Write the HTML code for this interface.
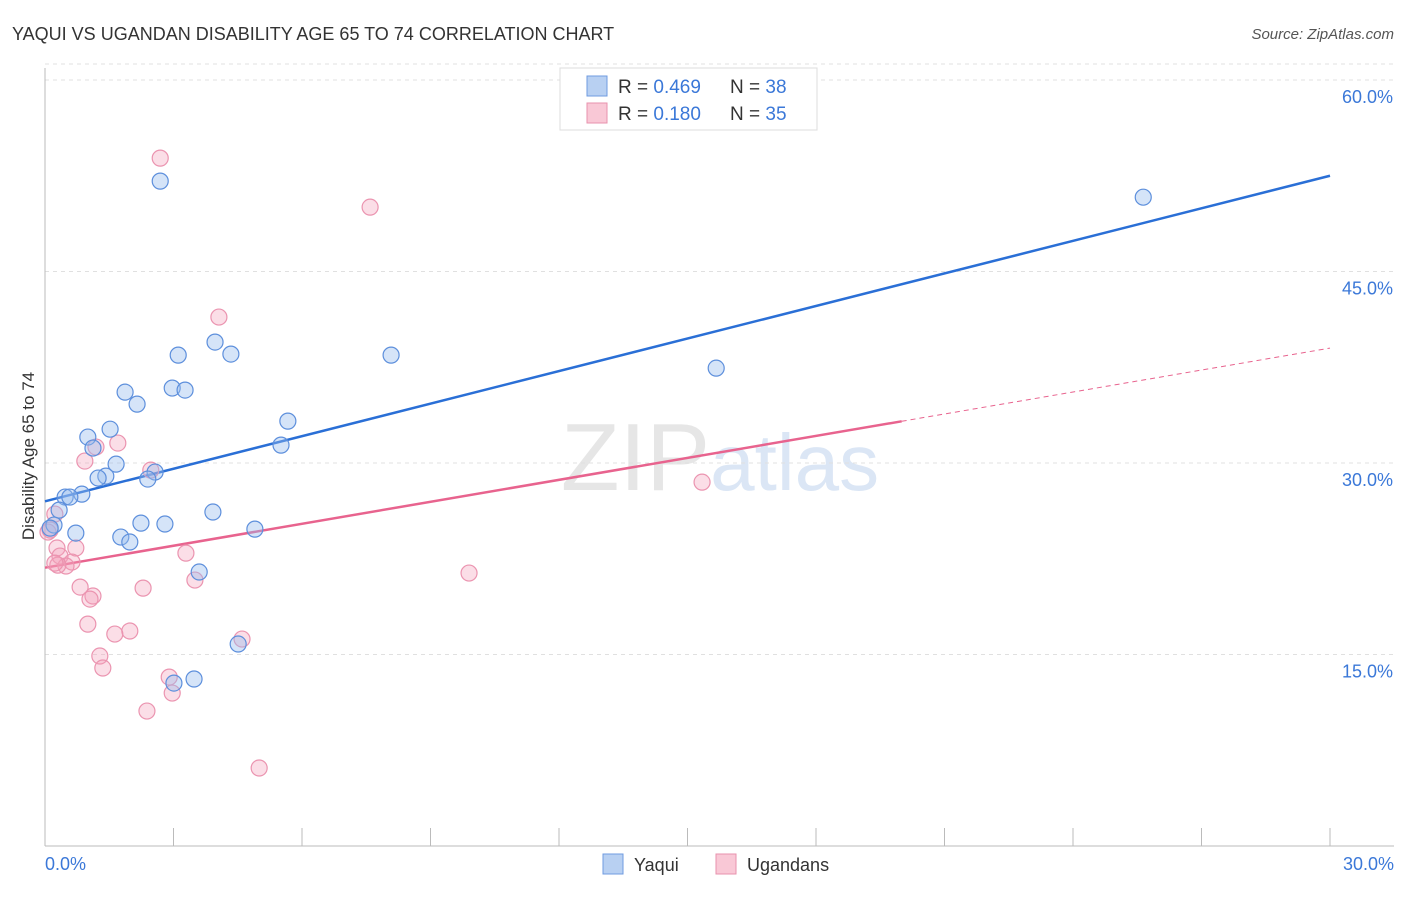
<!DOCTYPE html>
<html><head><meta charset="utf-8"><style>
body{margin:0;background:#fff;font-family:"Liberation Sans",sans-serif;}
svg text{font-family:"Liberation Sans",sans-serif;}
</style></head><body>
<svg id="chart" width="1406" height="892">
<text x="12" y="40" font-size="18" fill="#333">YAQUI VS UGANDAN DISABILITY AGE 65 TO 74 CORRELATION CHART</text>
<text x="1394" y="39" font-size="15" fill="#555" font-style="italic" text-anchor="end">Source: ZipAtlas.com</text>
<text x="720" y="490" font-size="96" fill="#e6e6e6" text-anchor="middle" font-family="Liberation Serif">ZIP<tspan fill="#dbe6f5" font-family="Liberation Sans" font-size="80">atlas</tspan></text>
<text transform="translate(34,456) rotate(-90)" font-size="17" fill="#333" text-anchor="middle">Disability Age 65 to 74</text>
<g id="grid"></g><g id="axes"></g><g id="trend"></g><g id="points"></g>
<g>
<rect x="560" y="68" width="257" height="62" fill="#fff" stroke="#ddd"/>
<rect x="587" y="76" width="20" height="20" fill="#b8d0f2" stroke="#6f9be0"/>
<rect x="587" y="103" width="20" height="20" fill="#f9c8d6" stroke="#e892ad"/>
<text x="618" y="93" font-size="19" fill="#333">R = <tspan fill="#3b78d8">0.469</tspan></text>
<text x="730" y="93" font-size="19" fill="#333">N = <tspan fill="#3b78d8">38</tspan></text>
<text x="618" y="120" font-size="19" fill="#333">R = <tspan fill="#3b78d8"> 0.180</tspan></text>
<text x="730" y="120" font-size="19" fill="#333">N = <tspan fill="#3b78d8">35</tspan></text>
</g>
<g>
<rect x="603" y="854" width="20" height="20" fill="#b8d0f2" stroke="#6f9be0"/>
<text x="634" y="871" font-size="18" fill="#333">Yaqui</text>
<rect x="716" y="854" width="20" height="20" fill="#f9c8d6" stroke="#e892ad"/>
<text x="747" y="871" font-size="18" fill="#333">Ugandans</text>
</g>
</svg>
<script>
const yTicks=[15,30,45,60];
const yTickLabels=["15.0%","30.0%","45.0%","60.0%"];
const xTickLabels=["0.0%","30.0%"];
const yaquiX=[2.69,25.64,3.97,3.11,4.34,8.08,15.67,2.97,3.27,1.87,2.15,5.67,1.52,1.00,1.12,5.51,1.66,2.57,1.42,1.24,2.40,0.86,0.47,0.58,0.33,3.92,2.24,2.80,0.21,0.12,0.72,1.77,1.98,4.90,3.60,4.51,3.48,3.01];
const yaquiY=[52.08,50.82,39.47,38.45,38.53,38.45,37.43,35.87,35.71,35.55,34.61,33.28,32.65,32.03,31.17,31.40,29.91,29.29,28.97,28.82,28.74,27.56,27.33,27.33,26.31,26.16,25.29,25.22,25.14,24.90,24.51,24.20,23.81,24.82,21.46,15.82,13.08,12.76];
const ugX=[2.69,7.59,4.06,1.70,1.19,0.93,2.47,15.34,0.23,0.12,0.07,0.28,0.72,3.29,0.35,0.63,0.49,0.30,9.90,3.50,0.82,2.29,1.12,1.05,1.00,1.98,1.63,4.60,1.28,1.35,2.90,2.97,2.38,5.00,0.23];
const ugY=[53.88,50.04,41.43,31.56,31.25,30.15,29.44,28.50,26.00,24.75,24.59,23.34,23.34,22.94,22.71,22.24,21.93,22.00,21.38,20.83,20.28,20.20,19.58,19.34,17.38,16.84,16.60,16.21,14.88,13.94,13.23,11.98,10.57,6.11,22.16];
const yaquiTrend=[27.0,52.5];
const ugTrend=[21.8,39.0];
const ugSolidEnd=20;

const NS="http://www.w3.org/2000/svg";
const X=v=>45+v*(1285/30);
const Y=v=>846-v*(766/60);
function mk(tag,attrs,parent){const e=document.createElementNS(NS,tag);for(const k in attrs)e.setAttribute(k,attrs[k]);document.getElementById(parent).appendChild(e);return e;}

yTicks.forEach((t,i)=>{
 const g=mk('line',{x1:45,x2:1394,y1:Y(t),y2:Y(t),stroke:'#e0e0e0','stroke-dasharray':'4,4'},'grid');
 
 
 const tx=mk('text',{x:1393,y:Y(t)+23,'font-size':18,fill:'#3b78d8','text-anchor':'end'},'grid');
 tx.textContent=yTickLabels[i];
 
 
});
const tg=mk('line',{x1:45,x2:1394,y1:Y(60)-16,y2:Y(60)-16,stroke:'#e0e0e0','stroke-dasharray':'4,4'},'grid');


const ya=mk('line',{x1:45,x2:45,y1:68,y2:846,stroke:'#bbb'},'axes');


const xa=mk('line',{x1:45,x2:1394,y1:846,y2:846,stroke:'#bbb'},'axes');


for(let i=0;i<=10;i++){
 const l=mk('line',{x1:X(i*3),x2:X(i*3),y1:828,y2:846,stroke:'#bbb'},'axes');
 
 
}
[[0,'start',45],[30,'end',1394]].forEach((d,i)=>{
 const t=mk('text',{x:d[2],y:870,'font-size':18,fill:'#3b78d8','text-anchor':d[1]},'axes');
 t.textContent=xTickLabels[i];
 
 
});
const bt=mk('line',{x1:X(0),y1:Y(yaquiTrend[0]),x2:X(30),y2:Y(yaquiTrend[1]),stroke:'#2a6fd6','stroke-width':2.5},'trend');


const ugAt=x=>ugTrend[0]+(ugTrend[1]-ugTrend[0])*x/30;
const pt=mk('line',{x1:X(0),y1:Y(ugTrend[0]),x2:X(ugSolidEnd),y2:Y(ugAt(ugSolidEnd)),stroke:'#e8638e','stroke-width':2.5},'trend');


const pd=mk('line',{x1:X(ugSolidEnd),y1:Y(ugAt(ugSolidEnd)),x2:X(30),y2:Y(ugTrend[1]),stroke:'#e8638e','stroke-width':1,'stroke-dasharray':'5,4'},'trend');


ugX.forEach((x,i)=>{
 const c=mk('circle',{cx:X(x),cy:Y(ugY[i]),r:8,fill:'rgba(244,160,186,0.35)',stroke:'#eb94b0','stroke-width':1.2},'points');
 
 
});
yaquiX.forEach((x,i)=>{
 const c=mk('circle',{cx:X(x),cy:Y(yaquiY[i]),r:8,fill:'rgba(150,188,238,0.4)',stroke:'#5d8fdc','stroke-width':1.2},'points');
 
 
});
</script>
</body></html>
